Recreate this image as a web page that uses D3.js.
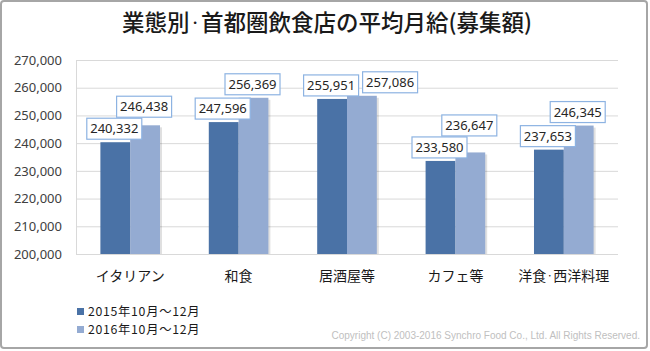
<!DOCTYPE html>
<html>
<head>
<meta charset="utf-8">
<script src="https://cdn.jsdelivr.net/npm/d3@7"></script>
<style>
  body { margin: 0; background: #fff; }
  text { font-family: "Noto Sans CJK JP", "Noto Sans", sans-serif; }
</style>
</head>
<body>
<div id="chart"></div>
<script>
const categories = ["イタリアン", "和食", "居酒屋等", "カフェ等", "洋食・西洋料理"];
const seriesNames = ["2015年10月～12月", "2016年10月～12月"];
const values2015 = [240332, 247596, 255951, 233580, 237653];
const values2016 = [246438, 256369, 257086, 236647, 246345];
const yTicks = [200000, 210000, 220000, 230000, 240000, 250000, 260000, 270000];
const colors = ["#4a72a6", "#94abd2"];
const titleText = "業態別・首都圏飲食店の平均月給(募集額)";

const W = 650, H = 351;
const margin = { top: 60, right: 32, bottom: 97, left: 76 };
const width = W - margin.left - margin.right;
const height = H - margin.top - margin.bottom;

const svg = d3.select("#chart").append("svg")
  .attr("width", W)
  .attr("height", H);

// outer frame
svg.append("rect")
  .attr("x", 1).attr("y", 1)
  .attr("width", W - 4).attr("height", H - 4)
  .attr("rx", 3)
  .attr("fill", "#fff")
  .attr("stroke", "#a6a6a6")
  .attr("stroke-width", 2);

// the middle dot is drawn smaller so it stays narrow like the original
function narrowDots(sel, str, fs) {
  const parts = str.split("・");
  const small = fs * 0.5;
  const lift = (fs - small) * 0.38;
  parts.forEach((p, i) => {
    if (i > 0) {
      sel.append("tspan").attr("dy", -lift).attr("font-size", small + "px").text("・");
      sel.append("tspan").attr("dy", lift).text(p);
    } else {
      sel.append("tspan").text(p);
    }
  });
}

const title = svg.append("text")
  .attr("x", 327)
  .attr("y", 31)
  .attr("text-anchor", "middle")
  .attr("font-size", "22.5px")
  .attr("font-weight", 500)
  .attr("fill", "#1a1a1a");
narrowDots(title, titleText, 22.5);

const g = svg.append("g")
  .attr("transform", `translate(${margin.left},${margin.top})`);

const x = d3.scaleBand().domain(categories).range([0, width]).paddingInner(0.45).paddingOuter(0.225);
const xSub = d3.scaleBand().domain([0, 1]).range([0, x.bandwidth()]);
const y = d3.scaleLinear().domain([200000, 270000]).range([height, 0]);

// grid
g.selectAll(".grid").data(yTicks).enter().append("line")
  .attr("x1", 0).attr("x2", width)
  .attr("y1", d => y(d) + 0.5).attr("y2", d => y(d) + 0.5)
  .attr("stroke", "#d9d9d9");
g.append("line")
  .attr("x1", 0.5).attr("x2", 0.5)
  .attr("y1", 0).attr("y2", height)
  .attr("stroke", "#d9d9d9");

// y axis
const yAxis = d3.axisLeft(y).tickValues(yTicks).tickSize(0).tickPadding(14).tickFormat(d3.format(","));
const ya = g.append("g").call(yAxis);
ya.select(".domain").remove();
ya.selectAll("text")
  .attr("font-size", "13px")
  .attr("fill", "#404040")
  .style("font-family", "'Noto Sans', sans-serif");

// x axis labels
const xAxis = d3.axisBottom(x).tickSize(0).tickPadding(14).tickFormat(() => "");
const xa = g.append("g").attr("transform", `translate(0,${height})`).call(xAxis);
xa.select(".domain").remove();
xa.selectAll(".tick text").remove();
xa.selectAll(".tick").append("text")
  .attr("y", 27)
  .attr("text-anchor", "middle")
  .attr("font-size", "14px")
  .attr("fill", "#1a1a1a")
  .each(function(d) { narrowDots(d3.select(this), d, 14); });

const rows = categories.map((c, i) => ({ cat: c, vals: [values2015[i], values2016[i]] }));

const groups = g.selectAll(".grp").data(rows).enter().append("g")
  .attr("transform", d => `translate(${x(d.cat)},0)`);

const bars = groups.selectAll(".bar")
  .data(d => d.vals.map((v, s) => ({ v, s })))
  .enter();

// soft shadow
bars.append("rect")
  .attr("x", d => xSub(d.s) + 2)
  .attr("y", d => y(d.v) + 2)
  .attr("width", xSub.bandwidth())
  .attr("height", d => height - y(d.v) - 2)
  .attr("fill", "#000")
  .attr("opacity", 0.12);

bars.append("rect")
  .attr("x", d => xSub(d.s))
  .attr("y", d => y(d.v))
  .attr("width", xSub.bandwidth())
  .attr("height", d => height - y(d.v))
  .attr("fill", d => colors[d.s]);

// value labels, the second one nudged when it would collide with the first
const fmt = d3.format(",");
const boxW = 55, boxH = 21;
function labelPos(vals) {
  const p = vals.map((v, s) => ({ v, s, cx: xSub(s) + xSub.bandwidth() / 2 - 1, bottom: y(v) - 3 }));
  const a = p[0], b = p[1];
  const overlapX = Math.abs(a.cx - b.cx) < boxW;
  const overlapY = Math.abs(a.bottom - b.bottom) < boxH;
  if (overlapX && overlapY) {
    if (Math.abs(a.bottom - b.bottom) < 6) b.cx = a.cx + boxW + 4;
    else b.bottom = a.bottom - boxH - 1;
  }
  return p;
}

const lab = groups.selectAll(".lab")
  .data(d => labelPos(d.vals))
  .enter().append("g")
  .attr("transform", d => `translate(${d.cx},${d.bottom})`);

lab.append("rect")
  .attr("x", -boxW / 2).attr("y", -boxH)
  .attr("width", boxW).attr("height", boxH)
  .attr("fill", "#fff")
  .attr("stroke", "#8db3e2")
  .attr("stroke-width", 1.2);

lab.append("text")
  .attr("x", 0).attr("y", -6)
  .attr("text-anchor", "middle")
  .attr("font-size", "13px")
  .attr("fill", "#262626")
  .style("font-family", "'Noto Sans', sans-serif")
  .text(d => fmt(d.v));

// legend
const leg = svg.append("g").attr("transform", "translate(77,308)");
const li = leg.selectAll(".li").data(seriesNames).enter().append("g")
  .attr("transform", (d, i) => `translate(0,${i * 18})`);
li.append("rect").attr("width", 7).attr("height", 7).attr("fill", (d, i) => colors[i]);
li.append("text")
  .attr("x", 11).attr("y", 8.3)
  .attr("font-size", "12.3px")
  .attr("letter-spacing", "0.7px")
  .attr("fill", "#1a1a1a")
  .text(d => d);

svg.append("text")
  .attr("x", 640)
  .attr("y", 339)
  .attr("text-anchor", "end")
  .attr("font-size", "10px")
  .attr("fill", "#c0c0c0")
  .style("font-family", "'Liberation Sans Narrow', 'Liberation Sans', sans-serif")
  .text("Copyright (C) 2003-2016  Synchro Food Co., Ltd. All Rights Reserved.");
</script>
</body>
</html>
